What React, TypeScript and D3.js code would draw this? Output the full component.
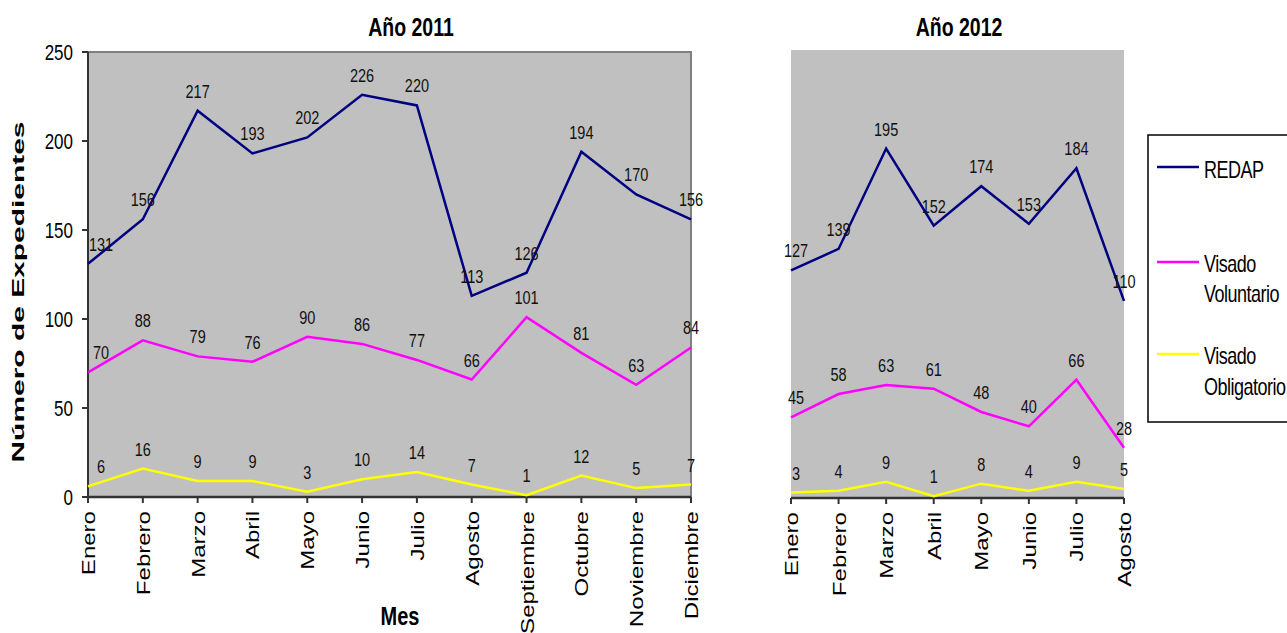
import React from "react";
import * as d3 from "d3";

const months2011 = ["Enero", "Febrero", "Marzo", "Abril", "Mayo", "Junio", "Julio", "Agosto", "Septiembre", "Octubre", "Noviembre", "Diciembre"];
const months2012 = ["Enero", "Febrero", "Marzo", "Abril", "Mayo", "Junio", "Julio", "Agosto"];

const redap2011 = [131, 156, 217, 193, 202, 226, 220, 113, 126, 194, 170, 156];
const voluntario2011 = [70, 88, 79, 76, 90, 86, 77, 66, 101, 81, 63, 84];
const obligatorio2011 = [6, 16, 9, 9, 3, 10, 14, 7, 1, 12, 5, 7];

const redap2012 = [127, 139, 195, 152, 174, 153, 184, 110];
const voluntario2012 = [45, 58, 63, 61, 48, 40, 66, 28];
const obligatorio2012 = [3, 4, 9, 1, 8, 4, 9, 5];

const yTicks = [0, 50, 100, 150, 200, 250];
const seriesNames = ["REDAP", "Visado Voluntario", "Visado Obligatorio"];
const seriesColors = ["#000080", "#FF00FF", "#FFFF00"];

const FONT = "'Liberation Sans', Arial, sans-serif";
const SY = 1.3;

type PanelProps = {
  months: string[];
  values: number[][];
  left: number;
  right: number;
  top: number;
  bottom: number;
  yAxis: boolean;
  firstDx: number;
  title: string;
  titleX: number;
};

function Panel({ months, values, left, right, top, bottom, yAxis, firstDx, title, titleX }: PanelProps) {
  const x = d3.scalePoint<string>().domain(months).range([left, right]);
  const y = d3.scaleLinear().domain([0, 250]).range([bottom, top]);
  const line = d3
    .line<number>()
    .x((_, i) => x(months[i]) as number)
    .y((d) => y(d));
  return (
    <g>
      <rect x={left} y={top} width={right - left} height={bottom - top} fill="#C0C0C0" />
      {yAxis && (
        <path d={`M${left},${top}H${right}V${bottom}`} stroke="#808080" strokeWidth={2} fill="none" />
      )}
      {yAxis && (
        <g>
          <line x1={left} x2={left} y1={top} y2={bottom} stroke="#333" strokeWidth={2} />
          {yTicks.map((t) => (
            <g key={t}>
              <line x1={left - 6} x2={left} y1={y(t)} y2={y(t)} stroke="#333" strokeWidth={2} />
              <text
                transform={`translate(${left - 15},${y(t) + 8}) scale(1,${SY})`}
                textAnchor="end"
                fontFamily={FONT}
                fontSize={17}
                fill="#000"
              >
                {t}
              </text>
            </g>
          ))}
        </g>
      )}
      <line x1={left} x2={right} y1={bottom} y2={bottom} stroke="#333" strokeWidth={2.5} />
      {months.map((m) => (
        <g key={m}>
          <line x1={x(m)} x2={x(m)} y1={bottom} y2={bottom + 6} stroke="#333" strokeWidth={2} />
          <text
            transform={`translate(${(x(m) as number) + 7},${bottom + 14}) rotate(-90) scale(${SY},1)`}
            textAnchor="end"
            fontFamily={FONT}
            fontSize={18.5}
            fill="#000"
          >
            {m}
          </text>
        </g>
      ))}
      {values.map((vals, si) => (
        <path key={si} d={line(vals) as string} stroke={seriesColors[si]} strokeWidth={2.5} fill="none" strokeLinejoin="miter" />
      ))}
      {values.map((vals, si) =>
        vals.map((v, i) => (
          <text
            key={`${si}-${i}`}
            transform={`translate(${(x(months[i]) as number) + (i === 0 ? firstDx : 0)},${y(v) - 13}) scale(1,${SY})`}
            textAnchor="middle"
            fontFamily={FONT}
            fontSize={14.5}
            fill="#111"
          >
            {v}
          </text>
        ))
      )}
      <text
        transform={`translate(${titleX},36) scale(1,${SY})`}
        textAnchor="middle"
        fontFamily={FONT}
        fontWeight="bold"
        fontSize={19.5}
        fill="#000"
      >
        {title}
      </text>
    </g>
  );
}

export default function App() {
  const legendItems = [
    { lines: ["REDAP"], lineY: 167, textY: [178] },
    { lines: ["Visado", "Voluntario"], lineY: 262, textY: [272, 302] },
    { lines: ["Visado", "Obligatorio"], lineY: 354, textY: [364, 395] },
  ];
  return (
    <svg width={1287} height={633} style={{ position: "absolute", left: 0, top: 0, background: "#fff" }}>
      <Panel
        months={months2011}
        values={[redap2011, voluntario2011, obligatorio2011]}
        left={88}
        right={691}
        top={52}
        bottom={497}
        yAxis={true}
        firstDx={13}
        title="Año 2011"
        titleX={411}
      />
      <Panel
        months={months2012}
        values={[redap2012, voluntario2012, obligatorio2012]}
        left={791}
        right={1124}
        top={50}
        bottom={498}
        yAxis={false}
        firstDx={5}
        title="Año 2012"
        titleX={959}
      />
      <text
        transform="translate(24,292) rotate(-90)"
        textAnchor="middle"
        fontFamily={FONT}
        fontWeight="bold"
        fontSize={16}
        textLength={341}
        lengthAdjust="spacingAndGlyphs"
        fill="#000"
      >
        Número de Expedientes
      </text>
      <text
        transform={`translate(400,625) scale(1,${SY})`}
        textAnchor="middle"
        fontFamily={FONT}
        fontWeight="bold"
        fontSize={20}
        fill="#000"
      >
        Mes
      </text>
      <rect x={1148} y={135} width={160} height={287} fill="#fff" stroke="#000" strokeWidth={1.5} />
      {legendItems.map((it, i) => (
        <g key={seriesNames[i]}>
          <line x1={1157} x2={1199} y1={it.lineY} y2={it.lineY} stroke={seriesColors[i]} strokeWidth={2.5} />
          {it.lines.map((t, j) => (
            <text
              key={j}
              transform={`translate(1204,${it.textY[j]}) scale(1,${SY})`}
              fontFamily={FONT}
              fontSize={18}
              letterSpacing={-0.5}
              fill="#000"
            >
              {t}
            </text>
          ))}
        </g>
      ))}
    </svg>
  );
}
